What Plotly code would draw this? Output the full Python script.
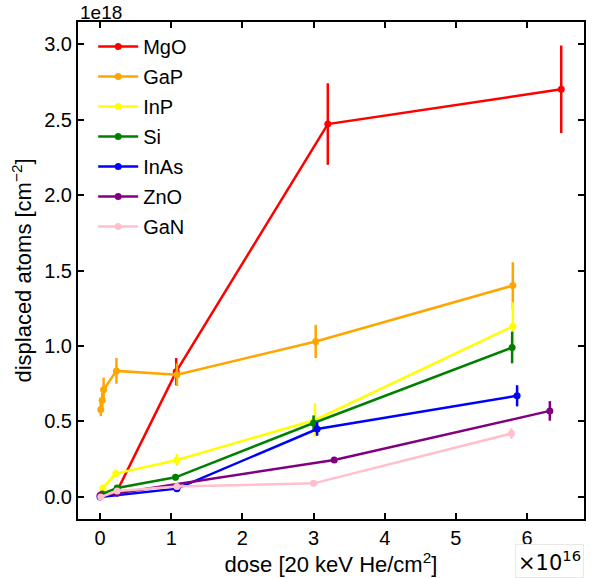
import plotly.graph_objects as go

# dose in units of 1e16 (20 keV He/cm^2); displaced atoms in units of 1e18 cm^-2
mgo_x = [0.24, 1.07, 3.20, 6.48]
mgo_y = [0.04, 0.83, 2.47, 2.70]
mgo_e = [0.01, 0.09, 0.27, 0.29]

gap_x = [0.01, 0.03, 0.05, 0.23, 1.08, 3.03, 5.80]
gap_y = [0.58, 0.64, 0.71, 0.835, 0.81, 1.03, 1.40]
gap_e = [0.045, 0.05, 0.08, 0.085, 0.075, 0.11, 0.155]

inp_x = [0.04, 0.22, 1.08, 3.02, 5.80]
inp_y = [0.06, 0.155, 0.245, 0.51, 1.13]
inp_e = [0.01, 0.02, 0.04, 0.11, 0.16]

si_x = [0.03, 0.24, 1.06, 3.00, 5.79]
si_y = [0.02, 0.06, 0.13, 0.49, 0.99]
si_e = [0.005, 0.01, 0.02, 0.05, 0.105]

inas_x = [0.00, 1.08, 3.05, 5.86]
inas_y = [0.00, 0.055, 0.45, 0.67]
inas_e = [0.005, 0.01, 0.045, 0.07]

zno_x = [0.00, 0.24, 3.29, 6.32]
zno_y = [0.01, 0.025, 0.245, 0.57]
zno_e = [0.005, 0.01, 0.02, 0.065]

gan_x = [0.01, 0.24, 1.08, 3.00, 5.78]
gan_y = [0.00, 0.04, 0.07, 0.09, 0.42]
gan_e = [0.005, 0.01, 0.01, 0.01, 0.035]

series = [
    ("MgO", mgo_x, mgo_y, mgo_e, "red"),
    ("GaP", gap_x, gap_y, gap_e, "orange"),
    ("InP", inp_x, inp_y, inp_e, "yellow"),
    ("Si", si_x, si_y, si_e, "green"),
    ("InAs", inas_x, inas_y, inas_e, "blue"),
    ("ZnO", zno_x, zno_y, zno_e, "purple"),
    ("GaN", gan_x, gan_y, gan_e, "pink"),
]

FONT = "Liberation Sans, Arial, sans-serif"

fig = go.Figure()
for name, xs, ys, es, col in series:
    fig.add_trace(go.Scatter(
        x=xs, y=ys, name=name, legendgroup=name, mode="lines+markers",
        line=dict(color=col, width=2.5),
        marker=dict(color=col, size=7, symbol="circle"),
        error_y=dict(type="data", array=es, visible=True, color=col,
                     thickness=2.5, width=0),
    ))

axis_common = dict(
    showline=True, linecolor="black", linewidth=2, mirror="ticks",
    ticks="inside", ticklen=6, tickwidth=1.5, tickcolor="black",
    showgrid=False, zeroline=False,
    tickfont=dict(size=20, color="black", family=FONT),
)

fig.update_layout(
    width=594, height=578,
    margin=dict(l=78, r=8, t=22, b=59),
    paper_bgcolor="white", plot_bgcolor="white",
    font=dict(family=FONT, size=20, color="black"),
    showlegend=True,
    legend=dict(x=0.03, y=0.99, xanchor="left", yanchor="top",
                bgcolor="rgba(255,255,255,0)", borderwidth=0,
                font=dict(size=20, family=FONT), tracegroupgap=1,
                itemwidth=40),
    xaxis=dict(range=[-0.31, 6.80], tickvals=[0, 1, 2, 3, 4, 5, 6],
               title=dict(text="dose [20 keV He/cm<sup>2</sup>]",
                          font=dict(size=22), standoff=4),
               **axis_common),
    yaxis=dict(range=[-0.146, 3.146], tickvals=[0, 0.5, 1.0, 1.5, 2.0, 2.5, 3.0],
               tickformat=".1f",
               title=dict(text="displaced atoms [cm<sup>\u22122</sup>]",
                          font=dict(size=22), standoff=6),
               **axis_common),
)

fig.add_annotation(text="1e18", xref="paper", yref="paper", x=0, y=1,
                   xanchor="left", yanchor="bottom", showarrow=False,
                   font=dict(size=19, family=FONT), yshift=-3)
fig.add_annotation(text="\u00d710<sup>16</sup>", xref="paper", yref="paper",
                   x=1, y=0, xanchor="right", yanchor="top", showarrow=False,
                   font=dict(size=21, family="DejaVu Sans"), yshift=-25,
                   bordercolor="#e8e8e8", borderwidth=1, borderpad=2,
                   bgcolor="white")

fig.write_html("out.html")
